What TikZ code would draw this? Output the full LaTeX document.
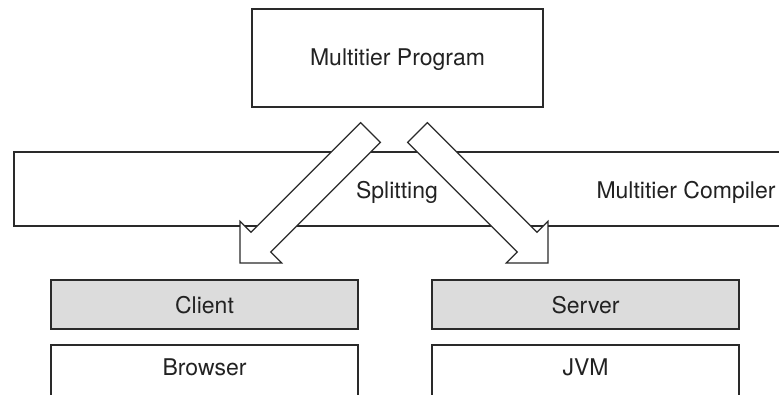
\documentclass[tikz,border=0pt]{standalone}
\usepackage{fontspec}
\setmainfont{TeX Gyre Heros}
\definecolor{linegray}{HTML}{2A2A2A}
\definecolor{tiergray}{HTML}{DCDCDC}
\definecolor{textgray}{HTML}{222222}
\begin{document}
\begin{tikzpicture}[x=1pt,y=-1pt,
  box/.style={draw=linegray,line width=1.2pt,rectangle,inner sep=0pt,fill=white},
  tier/.style={box,fill=tiergray},
  lbl/.style={text=textgray,font=\fontsize{23}{27}\selectfont,inner sep=0pt},
  arrowline/.style={draw=linegray,line width=1.2pt,fill=white,line join=miter},
  splitarrow/.pic={\path[arrowline] (0,-14) -- (155,-14) -- (155,-29.5) -- (184.6,0)
      -- (155,29.5) -- (155,14) -- (0,14) -- cycle;}]
\useasboundingbox (0,0) rectangle (779,394);
\clip (0,0) rectangle (779,394);

% compiler band, running off the right edge
\node[box,minimum width=786pt,minimum height=74pt] (compiler) at (407,189) {};
\node[lbl] (compilerlbl) at (686,192) {Multitier Compiler};
\node[lbl] (splitlbl) at (397,192) {Splitting};

% splitting arrows
\coordinate (ltail) at (370.5,132.5);
\coordinate (rtail) at (417.5,132.5);
\pic[rotate=225] at (ltail) {splitarrow};
\pic[rotate=315] at (rtail) {splitarrow};

% source program
\node[box,minimum width=291pt,minimum height=98pt] (program) at (397.5,58) {};
\node[lbl] (programlbl) at (397.5,60) {Multitier Program};

% tiers
\node[tier,minimum width=307pt,minimum height=49pt] (client) at (204.5,304.5) {};
\node[lbl] (clientlbl) at (204.5,305) {Client};
\node[tier,minimum width=307pt,minimum height=49pt] (server) at (585.5,304.5) {};
\node[lbl] (serverlbl) at (585.5,305) {Server};

% platforms, running off the bottom edge
\node[box,minimum width=307pt,minimum height=75pt] (browser) at (204.5,382.5) {};
\node[lbl] (browserlbl) at (204.5,367) {Browser};
\node[box,minimum width=307pt,minimum height=75pt] (jvm) at (585.5,382.5) {};
\node[lbl] (jvmlbl) at (585.5,367) {JVM};
\end{tikzpicture}
\end{document}
